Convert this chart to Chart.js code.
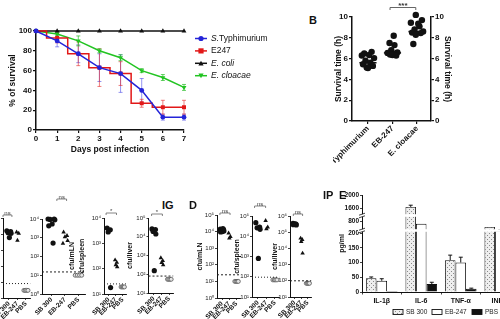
<!DOCTYPE html>
<html>
<head>
<meta charset="utf-8">
<script src="https://cdn.jsdelivr.net/npm/chart.js@4.4.1/dist/chart.umd.min.js"></script>
<style>
  html, body { margin: 0; padding: 0; background: #fff; }
  body { width: 500px; height: 319px; overflow: hidden; position: relative; font-family: "Liberation Sans", Arial, sans-serif; }
  canvas { position: absolute; }
  .tag { position: absolute; font-weight: bold; font-size: 11px; color: #111; line-height: 12px; }
</style>
</head>
<body>
<canvas id="chartA" width="300" height="160" style="left:0;top:0"></canvas>
<canvas id="chartB" width="167" height="170" style="left:333px;top:0"></canvas>
<canvas id="chartE" width="200" height="134" style="left:325px;top:185px"></canvas>
<div class="tag" style="left:309px;top:14px">B</div>
<div class="tag" style="left:162px;top:199px">IG</div>
<div class="tag" style="left:189px;top:199px">D</div>
<div class="tag" style="left:323px;top:189px">IP</div>
<div class="tag" style="left:339px;top:189px">E</div>
<script>
// ---- panel A: survival curves ----
const days = [0, 1, 2, 3, 4, 5, 6, 7];
const strains = ['S.Typhimurium', 'E247', 'E. coli', 'E. cloacae'];
const italicLen = [2, 0, 7, 10];
const survTyphi = [100, 90, 77, 63, 57, 40, 13, 13];
const errTyphi  = [0, 6, 9, 14, 19, 12, 3, 3];
const survE247  = [100, 93, 77, 63, 57, 27, 23, 23];
const errE247   = [0, 5, 12, 19, 12, 4, 7, 7];
const survColi  = [100, 100, 100, 100, 100, 100, 100, 100];
const errColi   = [0, 0, 0, 0, 0, 0, 0, 0];
const survCloac = [100, 97, 90, 80, 73, 60, 53, 43];
const errCloac  = [0, 2, 5, 2, 3, 2, 3, 3];

// ---- panel B: survival time ----
const groupsB = ['S. Typhimurium', 'EB-247', 'E. cloacae'];
const timeTyphi = [6.65, 6.5, 6.35, 6.3, 6.05, 5.8, 5.6, 5.45, 5.3, 5.15, 5.1];
const jitTyphi  = [0.15, -0.15, 0.05, -0.25, 0.25, -0.1, 0.1, -0.2, 0.2, -0.05, 0.0];
const timeEb    = [8.2, 7.5, 7.3, 6.8, 6.6, 6.55, 6.45, 6.4, 6.35, 6.3];
const jitEb     = [0.05, -0.12, 0.08, -0.05, 0.2, -0.2, 0.1, -0.1, 0.0, 0.15];
const timeClo   = [10.2, 9.7, 9.45, 9.35, 9.1, 8.8, 8.6, 8.5, 8.45, 8.3, 7.4];
const jitClo    = [-0.05, 0.2, -0.25, 0.05, 0.1, -0.1, 0.25, -0.2, 0.15, -0.05, -0.15];
const meanB     = [5.6, 6.55, 8.6];

// ---- bottom row: bacterial loads (cfu) ----
const cfuGroups = ['SB 300', 'EB-247', 'PBS'];
const jSb  = [-0.25, 0.2, -0.1, 0.25, 0.05, -0.2, 0.12];
const jEb  = [-0.1, 0.15, 0.0, 0.2, -0.15];
const jPbs = [-0.24, -0.08, 0.08, 0.24];
const p1Sb = [1.6e4, 1.4e4, 1.2e4, 1.1e4, 6e3];
const p1Eb = [1.3e4, 1.1e4, 4e3];
const p1Pbs = [3, 3, 3, 3];
const p2Sb = [1e4, 1e4, 9.5e3, 9e3, 5.4e3, 4.3e3, 520];
const p2Eb = [2e3, 1.3e3, 1.1e3, 700, 500];
const p2Pbs = [10, 10, 10, 10];
const p3Sb = [4e3, 3.4e3, 2.8e3, 18];
const p3Eb = [220, 175, 140, 117];
const p3Pbs = [19, 19, 19, 19];
const p4Sb = [2.6e4, 2.4e4, 1.9e4, 1.4e4, 155];
const p4Eb = [740, 525, 415, 315];
const p4Pbs = [54, 54, 54, 54];
const p5Sb = [1.4e4, 1.3e4, 1.2e4, 1.1e4, 1.0e4, 9.5e3, 1.5e4];
const p5Eb = [8e3, 5e3, 4e3];
const p5Pbs = [10, 10, 10, 10];
const p6Sb = [4.7e4, 2.8e4, 2.6e4, 2.2e4, 800];
const p6Eb = [5.9e4, 2.8e4, 2.3e4];
const p6Pbs = [70, 70, 70, 70];
const p7Sb = [3.5e5, 3.2e5, 3e5, 2.8e5, 3.3e5, 2.9e5];
const p7Eb = [4.2e4, 3.5e4, 2.6e4, 5e3];
const p7Pbs = [70, 70, 70, 70];
const lodCfu = [8, 15, 25, 80, 25, 95, 100];
const sigCfu = ['ns', 'ns', '*', '*', 'ns', 'ns', 'ns'];

// ---- panel E: cytokines ----
const cytokines = ['IL-1β', 'IL-6', 'TNF-α', 'INF-γ'];
const sb300    = [47, 1650, 108, 350];
const sb300Err = [4, 50, 17, 15];
const eb247    = [38, 600, 100, 230];
const eb247Err = [7, 40, 18, 10];
const pbs      = [3, 27, 11, 5];
const pbsErr   = [1, 6, 2, 1];
const eTicks   = [0, 50, 100, 150, 200, 800, 1600, 2000];

const FONT = '"Liberation Sans", Arial, sans-serif';
Chart.defaults.font.family = FONT;
Chart.defaults.color = '#111';
Chart.defaults.animation = false;
Chart.defaults.responsive = false;
Chart.defaults.devicePixelRatio = 1;
Chart.defaults.events = [];
Chart.defaults.plugins.legend.display = false;
Chart.defaults.plugins.tooltip.enabled = false;

// error bars drawn under the marks
const errorBars = {
  id: 'errorBars',
  beforeDatasetsDraw(chart) {
    const ctx = chart.ctx;
    chart.data.datasets.forEach((ds, k) => {
      if (!ds.errHi) return;
      const meta = chart.getDatasetMeta(k);
      const ys = chart.scales[meta.yAxisID];
      ctx.save();
      ctx.strokeStyle = ds.errColor || ds.borderColor;
      ctx.lineWidth = 1;
      meta.data.forEach((el, i) => {
        const yHi = ys.getPixelForValue(ds.errHi[i]);
        const yLo = ds.errLo ? ys.getPixelForValue(ds.errLo[i]) : el.y;
        if (Math.abs(yLo - yHi) < 0.5) return;
        const c = ds.errCap || 2;
        ctx.beginPath();
        ctx.moveTo(el.x, yLo); ctx.lineTo(el.x, yHi);
        ctx.moveTo(el.x - c, yHi); ctx.lineTo(el.x + c, yHi);
        if (ds.errLo) { ctx.moveTo(el.x - c, yLo); ctx.lineTo(el.x + c, yLo); }
        ctx.stroke();
      });
      ctx.restore();
    });
  }
};

function marker(ctx, style, x, y, r, rot) {
  ctx.beginPath();
  if (style === 'circle') ctx.arc(x, y, r, 0, Math.PI * 2);
  else if (style === 'rect') ctx.rect(x - r, y - r, 2 * r, 2 * r);
  else {
    const s = rot ? -1 : 1;
    ctx.moveTo(x, y - s * r); ctx.lineTo(x + r, y + s * r * 0.8); ctx.lineTo(x - r, y + s * r * 0.8);
    ctx.closePath();
  }
  ctx.fill();
}

const axisGrid = { display: true, drawOnChartArea: false, tickLength: 3, color: '#111', lineWidth: 1.2 };
const axisBorder = { color: '#111', width: 1.5 };

// ================= A =================
const colsA = ['#2424d8', '#e21818', '#111111', '#22c422'];
const errColA = ['rgba(60,60,230,0.55)', 'rgba(230,40,40,0.6)', '#111', 'rgba(40,190,40,0.7)'];
const seriesA = [survTyphi, survE247, survColi, survCloac];
const errsA = [errTyphi, errE247, errColi, errCloac];
const markA = ['circle', 'rect', 'triangle', 'triangle'];

new Chart(document.getElementById('chartA'), {
  type: 'line',
  data: {
    datasets: seriesA.map((s, k) => ({
      label: strains[k],
      data: days.map((d, i) => ({ x: d, y: s[i] })),
      borderColor: colsA[k],
      backgroundColor: colsA[k],
      borderWidth: 1.5,
      pointStyle: markA[k],
      pointRadius: k === 0 ? 2.4 : 2.8,
      pointRotation: k === 3 ? 180 : 0,
      pointBorderWidth: 0,
      stepped: k === 1 ? 'middle' : false,
      clip: false,
      errHi: s.map((v, i) => v + errsA[k][i]),
      errLo: s.map((v, i) => v - errsA[k][i]),
      errColor: errColA[k],
      errCap: 2
    }))
  },
  options: {
    layout: { padding: { top: 31, right: 116, left: 0, bottom: 0 } },
    scales: {
      x: {
        type: 'linear', min: 0, max: 7,
        afterFit: s => { s.height = 30; },
        ticks: { stepSize: 1, font: { size: 8, weight: 'bold' }, padding: 1 },
        grid: axisGrid, border: axisBorder,
        title: { display: true, text: 'Days post infection', font: { size: 8.5, weight: 'bold' }, padding: { top: 0, bottom: 5.5 } }
      },
      y: {
        min: 0, max: 100,
        afterFit: s => { s.width = 36; },
        ticks: { stepSize: 20, font: { size: 8, weight: 'bold' }, padding: 1 },
        grid: axisGrid, border: axisBorder,
        title: { display: true, text: '% of survival', font: { size: 8.5, weight: 'bold' }, padding: { top: 7.5, bottom: 0 } }
      }
    }
  },
  plugins: [errorBars, {
    id: 'legendA',
    afterDraw(chart) {
      const ctx = chart.ctx;
      chart.data.datasets.forEach((ds, k) => {
        const y = 38.5 + k * 12.4;
        ctx.save();
        ctx.strokeStyle = ds.borderColor; ctx.fillStyle = ds.borderColor; ctx.lineWidth = 1.5;
        ctx.beginPath(); ctx.moveTo(195, y); ctx.lineTo(207, y); ctx.stroke();
        marker(ctx, ds.pointStyle, 201, y, 2.6, ds.pointRotation);
        ctx.fillStyle = '#111'; ctx.textBaseline = 'middle';
        const it = ds.label.slice(0, italicLen[k]), rest = ds.label.slice(italicLen[k]);
        ctx.font = 'italic 8.5px ' + FONT;
        ctx.fillText(it, 211, y);
        const w = ctx.measureText(it).width;
        ctx.font = '8.5px ' + FONT;
        ctx.fillText(rest, 211 + w, y);
        ctx.restore();
      });
    }
  }]
});

// ================= B =================
const ptsB = [[timeTyphi, jitTyphi], [timeEb, jitEb], [timeClo, jitClo]];
new Chart(document.getElementById('chartB'), {
  type: 'scatter',
  data: {
    datasets: ptsB.map(([v, j], k) => ({
      data: v.map((y, i) => ({ x: k + j[i], y: y })),
      backgroundColor: '#111', pointRadius: 3.2, pointBorderWidth: 0, clip: false
    })).concat(meanB.map((m, k) => ({
      data: [{ x: k - 0.35, y: m }, { x: k + 0.35, y: m }],
      showLine: true, borderColor: '#111', borderWidth: 1.5, pointRadius: 0, clip: false
    })))
  },
  options: {
    layout: { padding: { top: 17, right: 0, left: 0, bottom: 0 } },
    scales: {
      x: {
        type: 'linear', min: -0.65, max: 2.57,
        afterBuildTicks: s => { s.ticks = groupsB.map((g, i) => ({ value: i })); },
        afterFit: s => { s.height = 49; s.paddingLeft = 0; s.paddingRight = 0; },
        ticks: { callback: (v, i) => groupsB[i], font: { size: 8, weight: 'bold' }, minRotation: 45, maxRotation: 45, autoSkip: false, padding: 0 },
        grid: axisGrid, border: axisBorder
      },
      y: {
        position: 'left', min: 0, max: 10,
        afterFit: s => { s.width = 19; },
        ticks: { stepSize: 2, font: { size: 8, weight: 'bold' }, padding: 1 },
        grid: axisGrid, border: axisBorder,
        title: { display: true, text: 'Survival time (h)', font: { size: 8.5, weight: 'bold' }, padding: { top: 0.5, bottom: 0 } }
      },
      y2: {
        position: 'right', min: 0, max: 10,
        afterFit: s => { s.width = 69; },
        ticks: { stepSize: 2, font: { size: 8, weight: 'bold' }, padding: 1 },
        grid: axisGrid, border: axisBorder,
        title: { display: true, text: 'Survival time (h)', font: { size: 8.5, weight: 'bold' }, padding: { top: 47.5, bottom: 0 } }
      }
    }
  },
  plugins: [{
    id: 'starsB',
    afterDraw(chart) {
      const ctx = chart.ctx, xs = chart.scales.x;
      const x0 = xs.getPixelForValue(0.9), x1 = xs.getPixelForValue(1.95), y = 7.5;
      ctx.save();
      ctx.strokeStyle = '#666'; ctx.lineWidth = 1;
      ctx.beginPath();
      ctx.moveTo(x0, y + 2.5); ctx.lineTo(x0, y); ctx.lineTo(x1, y); ctx.lineTo(x1, y + 2.5);
      ctx.stroke();
      ctx.fillStyle = '#333'; ctx.font = 'bold 8px ' + FONT; ctx.textAlign = 'center'; ctx.textBaseline = 'bottom';
      ctx.fillText('***', (x0 + x1) / 2, y + 2.5);
      ctx.restore();
    }
  }]
});

// ================= bottom cfu panels =================
const SUP = ['⁰', '¹', '²', '³', '⁴', '⁵', '⁶'];
const cfuPanels = [
  { axis: 3,   w: 28, top: 218, bottom: 298, min: 1,  max: 1e5, sb: p1Sb, eb: p1Eb, pb: p1Pbs, dash: [1, 2], brk: 3,  span: [-0.7, 0.35], title: '', yW: 20 },
  { axis: 42,  w: 44, top: 219, bottom: 294, min: 1,  max: 1e4, sb: p2Sb, eb: p2Eb, pb: p2Pbs, dash: [2, 2], brk: 20, span: [0.4, 1.12], title: '', yW: 20 },
  { axis: 104, w: 23, top: 218, bottom: 294, min: 10, max: 1e4, sb: p3Sb, eb: p3Eb, pb: p3Pbs, dash: [1, 2], brk: 5,  span: [-0.4, 1.1], title: ['cfu/mLN', 'cfu/spleen'], yW: 37 },
  { axis: 148, w: 26, top: 218, bottom: 293, min: 10, max: 1e5, sb: p4Sb, eb: p4Eb, pb: p4Pbs, dash: [2, 2], brk: 4,  span: [-0.3, 1.1], title: 'cfu/liver', yW: 23.5 },
  { axis: 217, w: 24, top: 215, bottom: 298, min: 1,  max: 1e5, sb: p5Sb, eb: p5Eb, pb: p5Pbs, dash: [2, 2], brk: 2,  span: [-0.3, 1.1], title: 'cfu/mLN', yW: 22 },
  { axis: 252, w: 28, top: 216, bottom: 297, min: 10, max: 1e5, sb: p6Sb, eb: p6Eb, pb: p6Pbs, dash: [1, 2], brk: 10, span: [-0.4, 0.9], title: 'cfu/spleen', yW: 20 },
  { axis: 290, w: 22, top: 216, bottom: 297, min: 10, max: 1e6, sb: p7Sb, eb: p7Eb, pb: p7Pbs, dash: [2, 2], brk: 2,  span: [-0.2, 1.2], title: 'cfu/liver', yW: 20 }
];

const thinGrid = { display: true, drawOnChartArea: false, tickLength: 2, color: '#111', lineWidth: 0.8 };
const thinBorder = { color: '#111', width: 1 };

cfuPanels.forEach((p, n) => {
  const cv = document.createElement('canvas');
  cv.width = p.yW + p.w + 4; cv.height = 129;
  cv.style.left = (p.axis - p.yW) + 'px'; cv.style.top = '190px';
  document.body.appendChild(cv);
  new Chart(cv, {
    type: 'scatter',
    data: {
      datasets: [
        { data: p.sb.map((v, i) => ({ x: jSb[i % jSb.length], y: v })), backgroundColor: '#111', pointRadius: 2.6, pointBorderWidth: 0, clip: false },
        { data: p.eb.map((v, i) => ({ x: 1 + jEb[i % jEb.length], y: v })), backgroundColor: '#111', pointStyle: 'triangle', pointRadius: 2.6, pointBorderWidth: 0, clip: false },
        { data: p.pb.map((v, i) => ({ x: 2 + jPbs[i % jPbs.length], y: v })), backgroundColor: '#e4e4e4', borderColor: '#555', pointRadius: 2, pointBorderWidth: 0.8, clip: false }
      ]
    },
    options: {
      layout: { padding: { top: p.top - 190, right: 4, left: 0, bottom: 0 } },
      scales: {
        x: {
          type: 'linear', min: -0.7, max: 2.5,
          afterBuildTicks: s => { s.ticks = cfuGroups.map((g, i) => ({ value: i })); },
          afterFit: s => { s.height = 319 - p.bottom; s.paddingLeft = 0; s.paddingRight = 0; },
          ticks: { callback: (v, i) => cfuGroups[i], font: { size: 6.5, weight: 'bold' }, minRotation: 45, maxRotation: 45, autoSkip: false, padding: 0 },
          grid: thinGrid, border: thinBorder
        },
        y: {
          type: 'logarithmic', min: p.min, max: p.max,
          afterBuildTicks: s => {
            const t = [];
            for (let e = Math.round(Math.log10(p.min)); e <= Math.round(Math.log10(p.max)); e++) t.push({ value: Math.pow(10, e) });
            s.ticks = t;
          },
          afterFit: s => { s.width = p.yW; },
          ticks: { callback: v => '10' + SUP[Math.round(Math.log10(v))], font: { size: 6 }, padding: 1, color: '#222' },
          grid: thinGrid, border: thinBorder,
          title: { display: p.title !== '', text: p.title, font: { size: 7, weight: 'bold', lineHeight: 1.4 }, padding: { top: 0, bottom: 0 } }
        }
      }
    },
    plugins: [{
      id: 'lodAndSig',
      afterDraw(chart) {
        const ctx = chart.ctx, a = chart.chartArea, xs = chart.scales.x, ys = chart.scales.y;
        ctx.save();
        const yl = ys.getPixelForValue(lodCfu[n]);
        ctx.strokeStyle = '#222'; ctx.lineWidth = 1; ctx.setLineDash(p.dash);
        ctx.beginPath(); ctx.moveTo(a.left, yl); ctx.lineTo(a.right, yl); ctx.stroke();
        ctx.setLineDash([]);
        const x0 = Math.max(xs.getPixelForValue(p.span[0]), 0.5), x1 = xs.getPixelForValue(p.span[1]), yb = a.top - p.brk;
        ctx.strokeStyle = '#666'; ctx.lineWidth = 0.8;
        ctx.beginPath();
        ctx.moveTo(x0, yb + 2); ctx.lineTo(x0, yb); ctx.lineTo(x1, yb); ctx.lineTo(x1, yb + 2);
        ctx.stroke();
        ctx.fillStyle = '#444'; ctx.font = '6px ' + FONT; ctx.textAlign = 'center'; ctx.textBaseline = 'bottom';
        ctx.fillText(sigCfu[n], (x0 + x1) / 2, yb + 1);
        ctx.restore();
      }
    }]
  });
});

// ================= E =================
// broken axis: value knots -> axis units (pixels from the bottom)
const knotV = [0, 200, 260, 1000, 1500, 2000];
const knotP = [0, 59, 64, 73, 80, 97];
const breaksP = [61.5, 76.5];
function toAxis(v) {
  for (let i = 1; i < knotV.length; i++) {
    if (v <= knotV[i]) return knotP[i - 1] + (v - knotV[i - 1]) / (knotV[i] - knotV[i - 1]) * (knotP[i] - knotP[i - 1]);
  }
  return knotP[knotP.length - 1];
}

const pc = document.createElement('canvas');
pc.width = 4; pc.height = 4;
const pctx = pc.getContext('2d');
pctx.fillStyle = '#eeeeee'; pctx.fillRect(0, 0, 4, 4);
pctx.fillStyle = '#8a8a8a'; pctx.fillRect(0, 0, 1, 1); pctx.fillRect(2, 2, 1, 1);
const eCtx = document.getElementById('chartE').getContext('2d');
const dots = eCtx.createPattern(pc, 'repeat');

const seriesE = [[sb300, sb300Err, dots], [eb247, eb247Err, '#ffffff'], [pbs, pbsErr, '#111111']];
new Chart(document.getElementById('chartE'), {
  type: 'bar',
  data: {
    labels: cytokines,
    datasets: seriesE.map(([v, e, fill], k) => ({
      label: cfuGroups[k],
      data: v.map(toAxis),
      backgroundColor: fill, borderColor: '#111', borderWidth: 0.9,
      categoryPercentage: 0.8, barPercentage: 1.0,
      errHi: v.map((x, i) => toAxis(x + e[i])), errColor: '#111', errCap: 2
    }))
  },
  options: {
    layout: { padding: { top: 10, right: 5, left: 0, bottom: 0 } },
    scales: {
      x: {
        offset: true,
        afterFit: s => { s.height = 27; },
        ticks: { font: { size: 7, weight: 'bold' }, padding: 2 },
        grid: { display: true, offset: true, drawOnChartArea: false, tickLength: 2.5, color: '#111', lineWidth: 0.8 },
        border: thinBorder
      },
      y: {
        min: 0, max: 97,
        afterBuildTicks: s => { s.ticks = eTicks.map(v => ({ value: toAxis(v) })); },
        afterFit: s => { s.width = 37; },
        ticks: { callback: (v, i) => eTicks[i], font: { size: 6.5, weight: 'bold' }, padding: 1 },
        grid: thinGrid, border: thinBorder,
        title: { display: true, text: 'pg/ml', font: { size: 7, weight: 'bold' }, padding: { top: 12.5, bottom: 0 } }
      }
    }
  },
  plugins: [errorBars, {
    id: 'breaksAndLegend',
    afterDraw(chart) {
      const ctx = chart.ctx, a = chart.chartArea, ys = chart.scales.y;
      ctx.save();
      breaksP.forEach(bp => {
        const y = ys.getPixelForValue(bp);
        ctx.fillStyle = '#fff';
        ctx.fillRect(a.left - 4, y - 1.3, a.right - a.left + 4, 2.6);
        ctx.strokeStyle = '#111'; ctx.lineWidth = 0.8;
        ctx.beginPath();
        ctx.moveTo(a.left - 3, y - 0.3); ctx.lineTo(a.left + 3, y - 2.3);
        ctx.moveTo(a.left - 3, y + 2.3); ctx.lineTo(a.left + 3, y + 0.3);
        ctx.stroke();
      });
      const boxX = [68, 107, 147];
      chart.data.datasets.forEach((ds, k) => {
        ctx.fillStyle = ds.backgroundColor; ctx.strokeStyle = '#111'; ctx.lineWidth = 0.9;
        ctx.fillRect(boxX[k], 124.5, 10, 5); ctx.strokeRect(boxX[k], 124.5, 10, 5);
        ctx.fillStyle = '#222'; ctx.font = '6.5px ' + FONT; ctx.textBaseline = 'middle';
        ctx.fillText(ds.label, boxX[k] + 13, 127.5);
      });
      ctx.restore();
    }
  }]
});
</script>
</body>
</html>
